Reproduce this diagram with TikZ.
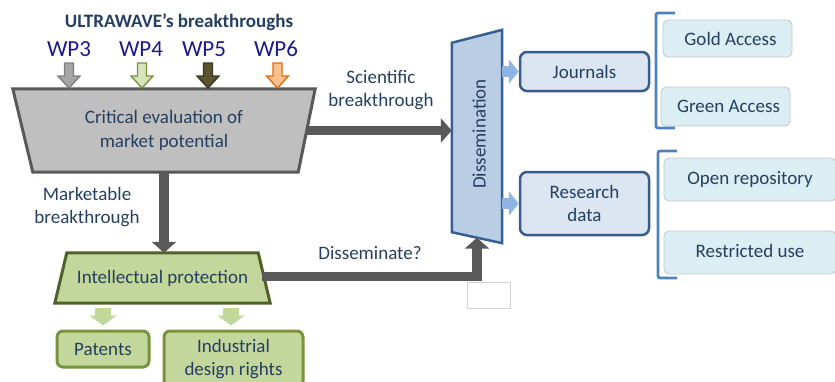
\documentclass[tikz,border=0pt]{standalone}
\usepackage{fontspec}
\setmainfont{Carlito}
\usetikzlibrary{arrows.meta,backgrounds}
\definecolor{txt}{HTML}{243F62}
\definecolor{wpc}{HTML}{1A1A8C}
\definecolor{darkgray}{HTML}{595959}
\definecolor{critfill}{HTML}{BFBFBF}
\definecolor{ipfill}{HTML}{C3D69B}
\definecolor{ipdraw}{HTML}{4F6228}
\definecolor{boxgreen}{HTML}{77933C}
\definecolor{dissfill}{HTML}{B9CDE5}
\definecolor{dissdraw}{HTML}{376092}
\definecolor{bluearr}{HTML}{8EB4E3}
\definecolor{jfill}{HTML}{DCE6F2}
\definecolor{jdraw}{HTML}{385D8A}
\definecolor{accfill}{HTML}{DAEEF3}
\definecolor{accdraw}{HTML}{BFC8CC}
\definecolor{brk}{HTML}{4F81BD}
\definecolor{wpgrayf}{HTML}{A6A6A6}
\definecolor{wpgrayd}{HTML}{7F7F7F}
\definecolor{wpgreenf}{HTML}{D7E4BD}
\definecolor{wpolivef}{HTML}{5A5430}
\definecolor{wpolived}{HTML}{3B3820}
\definecolor{wporangef}{HTML}{FAC090}
\definecolor{wporanged}{HTML}{E46C0A}
\tikzset{
  lbl/.style={text=txt,font=\fontsize{19}{23.5}\selectfont,align=center,inner sep=0pt},
  wplbl/.style={text=wpc,font=\fontsize{23}{26}\selectfont,inner sep=0pt},
  bigarrow/.style={draw=darkgray,line width=9.5pt,-{Triangle[width=24pt,length=11pt]}},
  bluearrow/.style={draw=bluearr,line width=11pt,-{Triangle[width=24pt,length=10pt]}},
  greenarrow/.style={draw=ipfill,line width=16pt,-{Triangle[width=27pt,length=10pt]}},
  jbox/.style={lbl,draw=jdraw,fill=jfill,line width=2.5pt,rounded corners=7pt,minimum width=129pt},
  accbox/.style={lbl,draw=accdraw,fill=accfill,line width=0.8pt,rounded corners=5pt},
  gbox/.style={lbl,draw=boxgreen,fill=ipfill,line width=3pt,rounded corners=6pt},
  blockdown/.pic={\path[pic actions] (-4.5,0) -- (4.5,0) -- (4.5,13) -- (11,13) -- (0,25) -- (-11,13) -- (-4.5,13) -- cycle;},
}
\begin{document}
\begin{tikzpicture}[x=1pt,y=-1pt]
\clip (0,0) rectangle (835,381);
\useasboundingbox (0,0) rectangle (835,381);

% title and WP labels
\node[text=txt,font=\bfseries\fontsize{19}{22}\selectfont,inner sep=0pt] (title) at (179,22) {ULTRAWAVE’s breakthroughs};
\node[wplbl] (wp3) at (69,49) {WP3};
\node[wplbl] (wp4) at (141,49) {WP4};
\node[wplbl] (wp5) at (204,49) {WP5};
\node[wplbl] (wp6) at (276,49) {WP6};

% critical evaluation
\node[lbl,minimum width=302pt,minimum height=83pt] (crit) at (164,130.5) {Critical evaluation of\\market potential};
\begin{scope}[on background layer]
\draw[fill=critfill,draw=darkgray,line width=3pt,line join=miter]
  (crit.north west) -- (crit.north east) -- ([xshift=-17pt]crit.south east) -- ([xshift=20pt]crit.south west) -- cycle;
\end{scope}

\pic[draw=wpgrayd,fill=wpgrayf,line width=1.4pt] at (69,63) {blockdown};
\pic[draw=boxgreen,fill=wpgreenf,line width=1.4pt] at (142,63) {blockdown};
\pic[draw=wpolived,fill=wpolivef,line width=1.4pt] at (208,63) {blockdown};
\pic[draw=wporanged,fill=wporangef,line width=1.4pt] at (277.5,63) {blockdown};

% dissemination
\node[minimum width=50pt,minimum height=213pt,inner sep=0pt] (diss) at (477,136.5) {};
\begin{scope}[on background layer]
\draw[fill=dissfill,draw=dissdraw,line width=2.5pt,line join=miter]
  ([yshift=-13pt]diss.north west) -- (diss.north east) -- (diss.south east) -- ([yshift=11pt]diss.south west) -- cycle;
\end{scope}
\node[lbl,rotate=90] (disstxt) at (479,134) {Dissemination};

% intellectual protection
\node[lbl,minimum width=215pt,minimum height=50pt] (ip) at (162.5,278) {\raisebox{2pt}{Intellectual protection}};
\begin{scope}[on background layer]
\draw[fill=ipfill,draw=ipdraw,line width=3pt,line join=miter]
  ([xshift=12pt]ip.north west) -- ([xshift=-12pt]ip.north east) -- (ip.south east) -- (ip.south west) -- cycle;
\end{scope}

% right boxes
\node[jbox,minimum height=39pt] (journals) at (584.5,71.5) {Journals};
\node[jbox,minimum height=63pt,text depth=0pt] (research) at (584.5,203.5) {Research\\data};
\node[accbox,minimum width=129pt,minimum height=37pt] (gold) at (727.5,38.5) {\hspace*{6pt}Gold Access};
\node[accbox,minimum width=129pt,minimum height=39pt] (green) at (725.5,106.5) {\hspace*{6pt}Green Access};
\node[accbox,minimum width=172pt,minimum height=43pt] (open) at (750,179.5) {\raisebox{3pt}{Open repository}};
\node[accbox,minimum width=172pt,minimum height=43pt] (restr) at (750,252.5) {\raisebox{3pt}{Restricted use}};

% brackets
\draw[brk,line width=2.8pt,rounded corners=2pt] (675,13) -- (656,13) -- (656,128) -- (675,128);
\draw[brk,line width=2.8pt,rounded corners=2pt] (677,151) -- (658,151) -- (658,278) -- (677,278);

% bottom boxes
\node[gbox,minimum width=92pt,minimum height=36pt] (patents) at (103,349) {Patents};
\node[gbox,minimum width=139pt,minimum height=56pt,font=\fontsize{19}{22.5}\selectfont] (indus) at (233.5,359) {\raisebox{2.5pt}{Industrial}\\\raisebox{2.5pt}{design rights}};

% empty small box
\node[draw=black!18,line width=0.8pt,minimum width=43pt,minimum height=26pt,inner sep=0pt] (empty) at (488.5,295) {};

% connectors
\draw[bigarrow] ([xshift=-8pt]crit.east) -- (crit.east -| diss.west);
\draw[bigarrow] (crit.south) -- (crit.south |- ip.north);
\draw[bigarrow] ([xshift=-8pt,yshift=1.5pt]ip.east) -| ([yshift=5.5pt]diss.south);
\draw[bluearrow] (diss.east |- journals.west) -- (journals.west);
\draw[bluearrow] (diss.east |- research.west) -- (research.west);
\draw[greenarrow] ([yshift=-5pt]patents.north |- ip.south) -- ([yshift=4pt]patents.north);
\draw[greenarrow] ([xshift=-2.5pt,yshift=-5pt]indus.north |- ip.south) -- ([xshift=-2.5pt,yshift=4pt]indus.north);

% labels
\node[lbl] (sci) at (381,90) {Scientific\\breakthrough};
\node[lbl] (mkt) at (87,207) {Marketable\\breakthrough};
\node[lbl] (dq) at (370,253) {Disseminate?};
\end{tikzpicture}
\end{document}
